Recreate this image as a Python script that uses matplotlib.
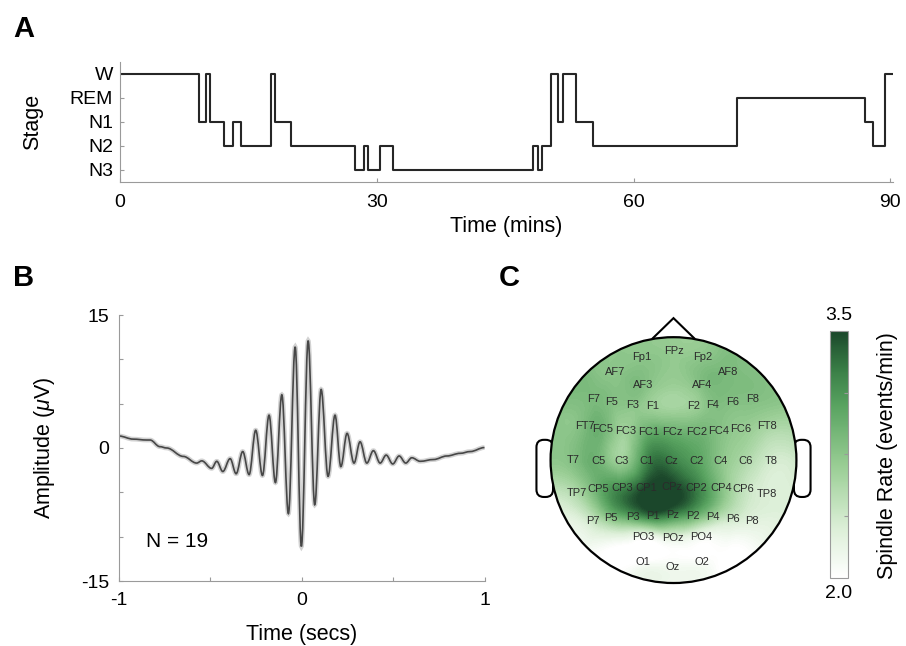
import numpy as np
import matplotlib
matplotlib.use("Agg")
import matplotlib.pyplot as plt
import matplotlib.tri as mtri
from matplotlib.colors import LinearSegmentedColormap, Normalize
from matplotlib.patches import Circle, FancyBboxPatch, Polygon, PathPatch
from matplotlib.path import Path
from matplotlib.cm import ScalarMappable

plt.rcParams['font.family'] = ['Liberation Sans', 'DejaVu Sans']
plt.rcParams['mathtext.fontset'] = 'custom'
plt.rcParams['mathtext.it'] = 'Liberation Sans:italic'

# ---- data ----
# hypnogram: segment start times (mins) and stage code (5=W,4=REM,3=N1,2=N2,1=N3)
stage_names = ['N3', 'N2', 'N1', 'REM', 'W']
seg_start = [0, 9.18, 10.08, 10.55, 12.1, 13.15, 14.17, 17.63, 18.15, 20.03,
             27.5, 28.47, 28.97, 30.42, 31.9, 48.27, 48.86, 49.33, 50.3, 51.2,
             51.74, 53.23, 55.26, 72.12, 87.0, 87.94, 89.31]
seg_stage = [5, 3, 5, 3, 2, 3, 2, 5, 3, 2,
             1, 2, 1, 2, 1, 2, 1, 2, 5, 3,
             5, 3, 2, 4, 3, 2, 5]
rec_end = 90.25

# average spindle (extrema)
wave_t = [-1.0, -0.922, -0.849, -0.83, -0.776, -0.739, -0.648, -0.575, -0.547, -0.493,
          -0.465, -0.432, -0.392, -0.359, -0.323, -0.288, -0.252, -0.215, -0.179, -0.144,
          -0.109, -0.073, -0.036, -0.002, 0.035, 0.071, 0.106, 0.144, 0.182, 0.214,
          0.248, 0.286, 0.319, 0.356, 0.392, 0.429, 0.462, 0.498, 0.533, 0.569,
          0.602, 0.648, 0.721, 0.794, 0.867, 0.922, 1.0]
wave_amp = [1.35, 1.0, 0.9, 0.9, 0.15, 0.0, -0.95, -1.7, -1.45, -2.3,
            -1.5, -2.65, -1.2, -2.9, -0.4, -3.0, 2.0, -3.1, 3.7, -3.9,
            6.0, -7.4, 11.4, -11.1, 12.1, -6.4, 6.6, -3.2, 3.7, -2.1,
            1.65, -1.7, 0.7, -1.7, -0.3, -1.7, -0.8, -1.8, -0.9, -1.7,
            -1.1, -1.5, -1.3, -0.9, -0.6, -0.4, 0.05]

# topography: electrode names, head coords (radius 1) and spindle rate
elec = ['Fp1', 'FPz', 'Fp2', 'AF7', 'AF8', 'AF3', 'AF4',
        'F7', 'F5', 'F3', 'F1', 'F2', 'F4', 'F6', 'F8',
        'FT7', 'FC5', 'FC3', 'FC1', 'FCz', 'FC2', 'FC4', 'FC6', 'FT8',
        'T7', 'C5', 'C3', 'C1', 'Cz', 'C2', 'C4', 'C6', 'T8',
        'TP7', 'CP5', 'CP3', 'CP1', 'CPz', 'CP2', 'CP4', 'CP6', 'TP8',
        'P7', 'P5', 'P3', 'P1', 'Pz', 'P2', 'P4', 'P6', 'P8',
        'PO3', 'POz', 'PO4', 'O1', 'Oz', 'O2']
elec_x = [-0.259, 0.004, 0.242, -0.476, 0.446, -0.245, 0.229,
          -0.652, -0.503, -0.332, -0.169, 0.161, 0.319, 0.481, 0.644,
          -0.720, -0.576, -0.386, -0.205, -0.007, 0.189, 0.364, 0.546, 0.763,
          -0.815, -0.610, -0.421, -0.218, -0.015, 0.189, 0.386, 0.589, 0.798,
          -0.787, -0.610, -0.421, -0.224, -0.015, 0.189, 0.386, 0.567, 0.757,
          -0.657, -0.508, -0.327, -0.169, -0.007, 0.161, 0.319, 0.481, 0.636,
          -0.245, -0.007, 0.229, -0.245, -0.007, 0.234]
elec_y = [0.835, 0.889, 0.835, 0.718, 0.718, 0.610, 0.610,
          0.496, 0.474, 0.447, 0.439, 0.439, 0.447, 0.474, 0.496,
          0.276, 0.249, 0.236, 0.230, 0.225, 0.230, 0.236, 0.249, 0.276,
          0.0, -0.005, -0.005, -0.005, -0.005, -0.005, -0.005, -0.005, -0.005,
          -0.271, -0.238, -0.230, -0.225, -0.222, -0.225, -0.230, -0.238, -0.279,
          -0.496, -0.474, -0.461, -0.453, -0.447, -0.453, -0.461, -0.480, -0.496,
          -0.623, -0.637, -0.623, -0.827, -0.867, -0.827]
elec_rate = [2.75, 2.7, 2.75, 2.75, 2.85, 2.8, 2.8,
             2.85, 2.8, 2.75, 2.65, 2.65, 2.8, 2.8, 2.8,
             2.85, 2.9, 2.65, 2.95, 2.95, 2.9, 2.8, 2.7, 2.6,
             2.8, 2.9, 2.65, 3.2, 3.25, 3.05, 2.75, 2.55, 2.35,
             2.55, 2.95, 3.2, 3.5, 3.55, 3.25, 2.8, 2.45, 2.3,
             2.4, 2.75, 3.05, 3.3, 3.2, 2.95, 2.6, 2.35, 2.25,
             2.1, 2.2, 2.1, 2.0, 2.1, 2.05]
rim_angle = [90, 67.5, 45, 22.5, 0, -22.5, -45, -67.5, -90,
             -112.5, -135, -157.5, 180, 157.5, 135, 112.5]
rim_rate = [2.7, 2.8, 2.75, 2.7, 2.45, 2.3, 2.15, 2.0, 2.0,
            2.0, 2.05, 2.3, 2.75, 2.85, 2.85, 2.75]

fig = plt.figure(figsize=(9.06, 6.46), dpi=100)
axis_gray = '#9a9a9a'

# ---- A: hypnogram ----
axA = fig.add_axes([120 / 906, 1 - 182 / 646, 773 / 906, 120 / 646])
axA.step(seg_start + [rec_end], seg_stage + [seg_stage[-1]], where='post',
         color='#262626', lw=1.5)
axA.set_xlim(0, 90.3)
axA.set_ylim(0.5, 5.5)
axA.set_yticks([1, 2, 3, 4, 5])
axA.set_yticklabels(stage_names)
axA.set_xticks([0, 30, 60, 90])
axA.set_xlabel('Time (mins)', fontsize=15.5)
axA.set_ylabel('Stage', fontsize=15.5)
axA.xaxis.set_label_coords(0.5, -0.28)
axA.yaxis.set_label_coords(-0.1, 0.5)
axA.tick_params(axis='x', pad=9)
axA.tick_params(axis='y', pad=5)

# ---- B: average spindle ----
axB = fig.add_axes([119 / 906, 1 - 581 / 646, 365.5 / 906, 266 / 646])
# smooth curve through the extrema (horizontal tangent at each one)
verts = [(wave_t[0], wave_amp[0])]
codes = [Path.MOVETO]
for i in range(1, len(wave_t)):
    t0, a0 = wave_t[i - 1], wave_amp[i - 1]
    t1, a1 = wave_t[i], wave_amp[i]
    dt = t1 - t0
    verts += [(t0 + 0.36 * dt, a0), (t1 - 0.36 * dt, a1), (t1, a1)]
    codes += [Path.CURVE4] * 3
wave_path = Path(verts, codes)
axB.add_patch(PathPatch(wave_path, fc='none', ec='#d2d2d2', lw=3.4))
axB.add_patch(PathPatch(wave_path, fc='none', ec='#474747', lw=1.2))
axB.set_xlim(-1, 1)
axB.set_ylim(-15, 15)
axB.set_yticks([-15, -10, -5, 0, 5, 10, 15])
axB.set_yticklabels(['-15', '', '', '0', '', '', '15'])
axB.set_xticks([-1, -0.5, 0, 0.5, 1])
axB.set_xticklabels(['-1', '', '0', '', '1'])
axB.set_xlabel('Time (secs)', fontsize=15.5)
axB.set_ylabel('Amplitude ($\\mu$V)', fontsize=15.5)
axB.xaxis.set_label_coords(0.5, -0.16)
axB.yaxis.set_label_coords(-0.17, 0.5)
axB.tick_params(axis='x', pad=8)
axB.tick_params(axis='y', pad=7)
axB.text(-0.85, -10.6, 'N = 19', fontsize=15, va='center', ha='left')

for ax in (axA, axB):
    for s in ('top', 'right'):
        ax.spines[s].set_visible(False)
    for s in ('left', 'bottom'):
        ax.spines[s].set_color(axis_gray)
    ax.tick_params(direction='in', length=3, color=axis_gray, labelsize=14)

# ---- C: topography ----
cmap = LinearSegmentedColormap.from_list('spg', [
    (0.0, '#ffffff'), (0.2, '#dcefd7'), (0.45, '#9ace95'),
    (0.7, '#58a360'), (0.85, '#387c45'), (1.0, '#1b472b')])
norm = Normalize(2.0, 3.5)

axC = fig.add_axes([526 / 906, 1 - 607.6 / 646, 295 / 906, 295 / 646])
axC.set_xlim(-1.2, 1.2)
axC.set_ylim(-1.2, 1.2)
axC.set_aspect('equal')
axC.axis('off')

rim_r = 1.08
px = elec_x + list(rim_r * np.cos(np.deg2rad(rim_angle)))
py = elec_y + list(rim_r * np.sin(np.deg2rad(rim_angle)))
pz = np.array(elec_rate + rim_rate)
tri = mtri.Triangulation(px, py)
tri_ref, z_ref = mtri.UniformTriRefiner(tri).refine_field(pz, subdiv=4)
head = Circle((0, 0), 1.0, transform=axC.transData)
cs = axC.tricontourf(tri_ref, z_ref, levels=np.linspace(1.5, 4.0, 120),
                     cmap=cmap, norm=norm, zorder=2)
cs.set_clip_path(head)

for side in (-1, 1):
    ear = FancyBboxPatch((-1.115 if side < 0 else 0.98, -0.30), 0.135, 0.465,
                         boxstyle='round,pad=0,rounding_size=0.06',
                         fc='white', ec='black', lw=1.5, zorder=1)
    axC.add_patch(ear)
axC.add_patch(Polygon([(-0.175, 0.985), (0, 1.155), (0.175, 0.985)], closed=False,
                      fc='white', ec='black', lw=1.5, zorder=1))
axC.add_patch(Circle((0, 0), 1.0, fc='none', ec='black', lw=1.6, zorder=4))

for name, x, y in zip(elec, elec_x, elec_y):
    axC.text(x, y, name, fontsize=8, color='#2b2b2b', ha='center', va='center', zorder=5)

cax = fig.add_axes([830 / 906, 1 - 578 / 646, 18 / 906, 247 / 646])
cb = fig.colorbar(ScalarMappable(norm=norm, cmap=cmap), cax=cax)
cb.set_ticks([2.375, 2.75, 3.125])
cb.set_ticklabels([])
cb.outline.set_edgecolor(axis_gray)
cax.tick_params(direction='in', length=3, color=axis_gray)
fig.text(839 / 906, 1 - 315 / 646, '3.5', fontsize=14, ha='center', va='center')
fig.text(839 / 906, 1 - 594 / 646, '2.0', fontsize=14, ha='center', va='center')
fig.text(887 / 906, 1 - 456 / 646, 'Spindle Rate (events/min)', fontsize=15.5,
         rotation=90, ha='center', va='center')

# panel letters
for lab, x, y in (('A', 24, 29), ('B', 24, 278), ('C', 509, 278)):
    fig.text(x / 906, 1 - y / 646, lab, fontsize=21, fontweight='bold',
             ha='center', va='center')

fig.savefig('out.png', dpi=100)
